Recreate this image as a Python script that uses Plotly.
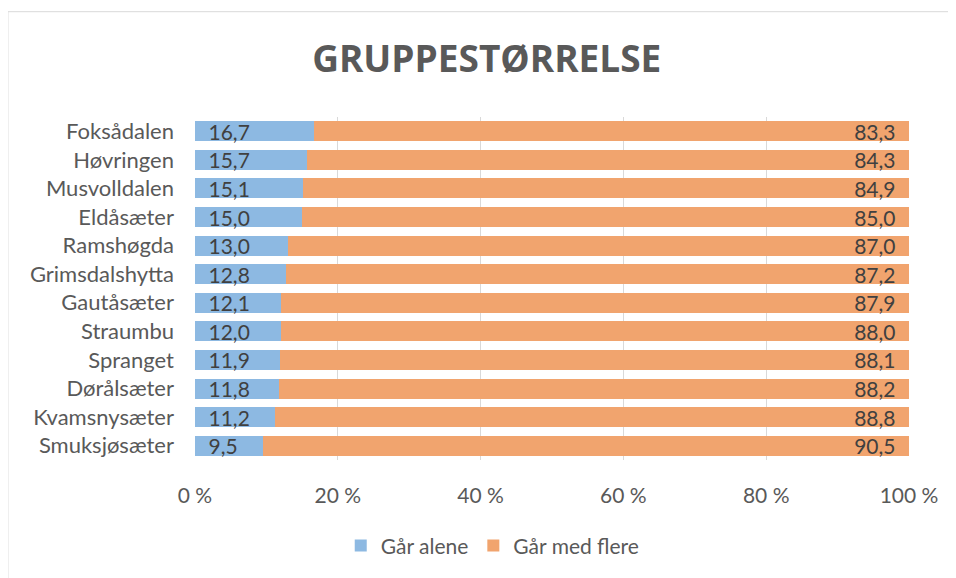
import plotly.graph_objects as go

categories = ["Foksådalen", "Høvringen", "Musvolldalen", "Eldåsæter", "Ramshøgda",
              "Grimsdalshytta", "Gautåsæter", "Straumbu", "Spranget", "Dørålsæter",
              "Kvamsnysæter", "Smuksjøsæter"]
alene = [16.7, 15.7, 15.1, 15.0, 13.0, 12.8, 12.1, 12.0, 11.9, 11.8, 11.2, 9.5]
flere = [83.3, 84.3, 84.9, 85.0, 87.0, 87.2, 87.9, 88.0, 88.1, 88.2, 88.8, 90.5]
tick_vals = [0, 20, 40, 60, 80, 100]
tick_text = ["0 %", "20 %", "40 %", "60 %", "80 %", "100 %"]

FONT = "Lato"
FS = 21
PAD = "\u2002"

def fmt(v):
    return f"{v:.1f}".replace(".", ",")

fig = go.Figure()
fig.add_trace(go.Bar(
    y=categories, x=alene, orientation="h", name="Går alene",
    marker=dict(color="#8DB9E2", line=dict(width=0)),
    text=[PAD + fmt(v) for v in alene], textposition="inside", insidetextanchor="start",
    constraintext="none", cliponaxis=False,
    textfont=dict(family=FONT, size=FS, color="#404040"), textangle=0,
))
fig.add_trace(go.Bar(
    y=categories, x=flere, orientation="h", name="Går med flere",
    marker=dict(color="#F1A46E", line=dict(width=0)),
    text=[fmt(v) + PAD for v in flere], textposition="inside", insidetextanchor="end",
    constraintext="none", cliponaxis=False,
    textfont=dict(family=FONT, size=FS, color="#404040"), textangle=0,
))

fig.update_layout(
    barmode="stack", bargap=0.30,
    width=948, height=570,
    margin=dict(l=187, r=47, t=109, b=116),
    paper_bgcolor="white", plot_bgcolor="white",
    font=dict(family=FONT, size=FS, color="#595959"),
    title=dict(text="<b>GRUPPESTØRRELSE</b>", x=0.505, xanchor="center", y=0.91, yanchor="middle",
               font=dict(family="Open Sans", size=37, color="#595959")),
    showlegend=True,
    legend=dict(orientation="h", x=0.417, xanchor="center", y=-0.25, yanchor="middle",
                font=dict(family=FONT, size=FS, color="#595959"), itemwidth=30,
                traceorder="normal"),
    uniformtext=dict(mode=False),
)
fig.update_xaxes(range=[0, 100], tickvals=tick_vals, ticktext=tick_text,
                 showgrid=True, gridcolor="#D9D9D9", gridwidth=1, zeroline=False,
                 showline=False, ticks="", ticklabelstandoff=21,
                 tickfont=dict(family=FONT, size=FS, color="#595959"))
fig.update_yaxes(autorange="reversed", showgrid=False, zeroline=False, showline=False,
                 ticks="", ticklabelstandoff=20,
                 tickfont=dict(family=FONT, size=22, color="#595959"))

# chart border (left and top edges visible)
fig.add_shape(type="line", xref="paper", yref="paper", x0=-0.262, x1=-0.262, y0=-0.5, y1=1.307,
              line=dict(color="#D9D9D9", width=1))
fig.add_shape(type="line", xref="paper", yref="paper", x0=-0.262, x1=1.2, y0=1.307, y1=1.307,
              line=dict(color="#D9D9D9", width=1))

fig.write_html("out.html")
